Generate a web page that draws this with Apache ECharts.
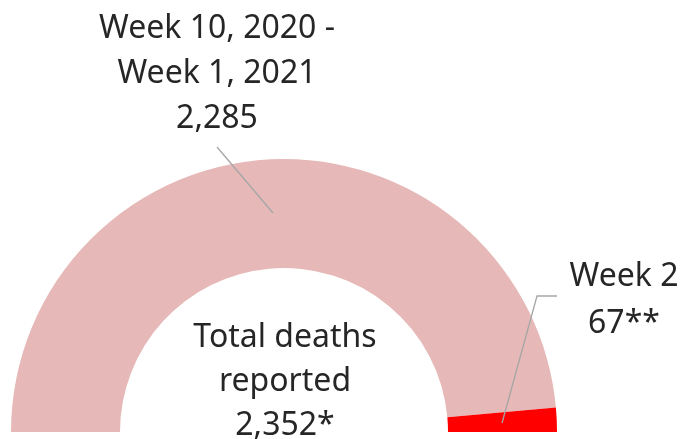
<!DOCTYPE html>
<html>
<head>
<meta charset="utf-8">
<script src="https://cdn.jsdelivr.net/npm/echarts@6/dist/echarts.min.js"></script>
<style>
    html, body { margin: 0; padding: 0; background: #fff; }
    #chart { width: 684px; height: 439px; }
</style>
</head>
<body>
<div id="chart"></div>
<script>
// 数据
var categories = ['Week 10, 2020 -\nWeek 1, 2021', 'Week 2'];
var deaths = [2285, 67];
var valueLabels = ['2,285', '67**'];
var totalLabel = 'Total deaths\nreported\n2,352*';

var colors = ['#E6B9B8', '#FF0000'];
var font = 'Noto Sans';
var fontSize = 32;

var chart = echarts.init(document.getElementById('chart'));

// 标签位置 (label positions + leader lines)
var labelSpots = [
    { x: 217, y: 74, line: [[217, 147], [273, 213]], lh: 45 },
    { x: 624, y: 300, line: [[557, 296], [537, 296], [502, 423]], lh: 47 }
];

var option = {
    animation: false,
    graphic: [{
        type: 'text',
        x: 285,
        y: 382,
        z: 100,
        style: {
            text: totalLabel,
            align: 'center',
            verticalAlign: 'middle',
            fill: '#262626',
            font: fontSize + 'px "' + font + '"',
            lineHeight: 44
        }
    }].concat(labelSpots.map(function (s) {
        // 引导线
        return {
            type: 'polyline',
            z: 100,
            shape: { points: s.line },
            style: { stroke: '#A6A6A6', lineWidth: 1.3, fill: null }
        };
    })),
    series: [{
        type: 'pie',
        center: [284, 432],
        radius: [164, 273],
        startAngle: 180,
        endAngle: 0,
        clockwise: true,
        data: categories.map(function (name, i) {
            return {
                name: name,
                value: deaths[i],
                itemStyle: { color: colors[i] },
                label: { lineHeight: labelSpots[i].lh }
            };
        }),
        label: {
            show: true,
            position: 'outside',
            formatter: function (p) { return p.name + '\n' + valueLabels[p.dataIndex]; },
            color: '#262626',
            fontFamily: font,
            fontSize: fontSize,
            align: 'center',
            overflow: 'none'
        },
        labelLine: { show: false },
        labelLayout: function (params) {
            var s = labelSpots[params.dataIndex];
            return {
                x: s.x,
                y: s.y,
                align: 'center',
                verticalAlign: 'middle'
            };
        }
    }]
};

chart.setOption(option);
</script>
</body>
</html>
